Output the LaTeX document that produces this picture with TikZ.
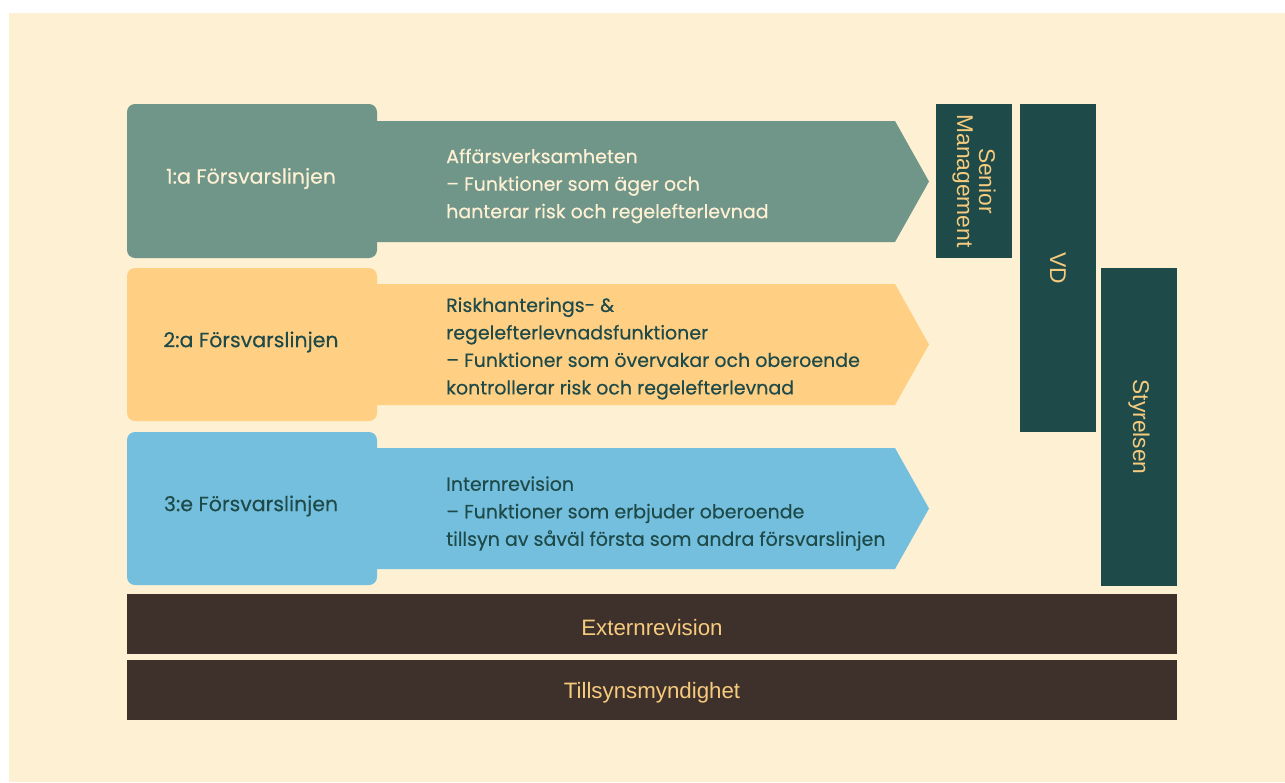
\documentclass[tikz,border=0pt]{standalone}
\usepackage{fontspec}
\setmainfont{Poppins}[FakeBold=0.35]
\newfontfamily\rfont{Liberation Sans}
\definecolor{cream}{HTML}{FEF0D3}
\definecolor{sage}{HTML}{70968A}
\definecolor{sand}{HTML}{FFD083}
\definecolor{sky}{HTML}{74BFDE}
\definecolor{teal}{HTML}{1E4A4A}
\definecolor{brown}{HTML}{3E302A}
\definecolor{gold}{HTML}{F6CB7E}
\begin{document}
\begin{tikzpicture}[x=1pt,y=-1pt,
  lbox/.style={rectangle, rounded corners=8pt, minimum width=250pt, minimum height=153pt, inner sep=0pt},
  ltext/.style={inner sep=0pt, font=\fontsize{20.5}{24}\selectfont},
  desc/.style={anchor=west, align=left, inner sep=0pt, font=\fontsize{19}{27.5}\selectfont},
  vbox/.style={rectangle, fill=teal, text=gold, rotate=-90, minimum height=76pt, inner sep=0pt, align=center, font=\rfont\fontsize{22.8}{22}\selectfont},
  bar/.style={rectangle, fill=brown, minimum width=1050pt, minimum height=60pt, inner sep=0pt},
  bartext/.style={text=gold, inner sep=0pt, font=\rfont\fontsize{22.3}{24}\selectfont}
]
\useasboundingbox (0,0) rectangle (1285,782);
\fill[white] (0,0) rectangle (1285,782);
\fill[cream] (9,13) rectangle (1285,782);

% line 1
\fill[sage] (370,121) -- (895,121) -- (929,181.5) -- (895,242) -- (370,242) -- cycle;
\node[lbox, fill=sage, minimum height=154pt] (l1) at (252,181) {};
\node[ltext, text=cream] (t1) at (251,178.5) {1:a Försvarslinjen};
\node[desc, text=cream] (d1) at (446,186) {Affärsverksamheten\\– Funktioner som äger och\\hanterar risk och regelefterlevnad};

% line 2
\fill[sand] (370,284) -- (895,284) -- (929,344.5) -- (895,405) -- (370,405) -- cycle;
\node[lbox, fill=sand] (l2) at (252,344.5) {};
\node[ltext, text=teal] (t2) at (251,342) {2:a Försvarslinjen};
\node[desc, text=teal] (d2) at (446,348.5) {Riskhanterings- \&\\regelefterlevnadsfunktioner\\– Funktioner som övervakar och oberoende\\kontrollerar risk och regelefterlevnad};

% line 3
\fill[sky] (370,448) -- (895,448) -- (929,508.5) -- (895,569) -- (370,569) -- cycle;
\node[lbox, fill=sky] (l3) at (252,508.5) {};
\node[ltext, text=teal] (t3) at (251,506) {3:e Försvarslinjen};
\node[desc, text=teal] (d3) at (446,513.5) {Internrevision\\– Funktioner som erbjuder oberoende\\tillsyn av såväl första som andra försvarslinjen};

% vertical boxes
\node[vbox, minimum width=154pt] (sm) at (974,181) {Senior\\Management};
\node[vbox, minimum width=328pt] (vd) at (1058,268) {VD};
\node[vbox, minimum width=318pt] (sty) at (1139,427) {Styrelsen};

% bottom bars
\node[bar] (ext) at (652,624) {};
\node[bartext] (extt) at (652,627.5) {Externrevision};
\node[bar] (til) at (652,690) {};
\node[bartext] (tilt) at (652,693) {Tillsynsmyndighet};
\end{tikzpicture}
\end{document}
